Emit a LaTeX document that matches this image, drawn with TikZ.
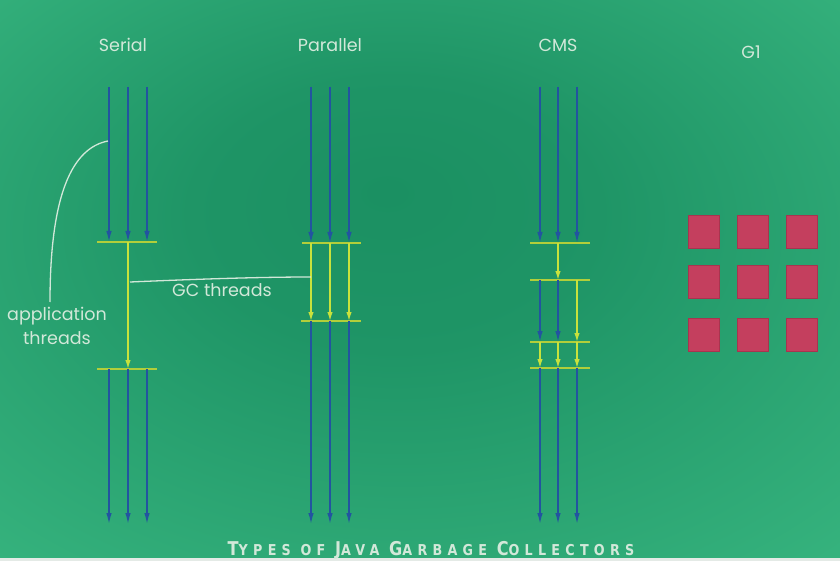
\documentclass[tikz,border=0pt]{standalone}
\usepackage{fontspec}
\setmainfont{Poppins}
\newfontfamily\titlefont[FakeStretch=0.85,LetterSpace=35]{DejaVu Sans}
\usetikzlibrary{arrows.meta}
\definecolor{gdark}{HTML}{1B9062}
\definecolor{glight}{HTML}{40C088}
\definecolor{thread}{HTML}{2254A0}
\definecolor{gcline}{HTML}{C8E23C}
\definecolor{barcol}{HTML}{B2CE3A}
\definecolor{labelcol}{HTML}{D2E8D9}
\definecolor{regionfill}{HTML}{C43F5E}
\definecolor{regionedge}{HTML}{A8344F}
\definecolor{stripcol}{HTML}{E4EAE6}
\pgfdeclareradialshading{greenbg}{\pgfpoint{-2bp}{8bp}}{color(0bp)=(gdark); color(12bp)=(gdark!90!glight); color(30bp)=(gdark!45!glight); color(48bp)=(glight)}
\newcommand{\Ini}[1]{{\fontsize{19}{20}\selectfont #1}}

\begin{document}
\begin{tikzpicture}[x=1pt,y=-1pt]
	\tikzstyle{label}=[text=labelcol,font=\fontsize{17.5}{24}\selectfont,inner sep=0pt]
	\tikzstyle{app}=[draw=thread,line width=1.4pt,-{Latex[length=11pt,width=5.5pt]}]
	\tikzstyle{gc}=[draw=gcline,line width=1.4pt,-{Latex[length=9pt,width=5.5pt]}]
	\tikzstyle{safepoint}=[draw=barcol,line width=2.2pt]
	\tikzstyle{note}=[draw=labelcol,line width=1.3pt]
	\tikzstyle{g1region}=[draw=regionedge,fill=regionfill,line width=0.8pt,inner sep=0pt,minimum width=31pt,minimum height=33pt]

	\useasboundingbox (0,0) rectangle (840,561);
	\shade[shading=greenbg] (0,0) rectangle (840,561);
	\fill[stripcol] (0,557.5) rectangle (840,561);

	% collector names
	\node [label] (serial) at (123,45) {Serial};
	\node [label] (parallel) at (330,45) {Parallel};
	\node [label] (cms) at (558,45) {CMS};
	\node [label] (g1) at (751,52) {G1};

	% serial
	\coordinate (ser1) at (109,87);
	\coordinate (ser2) at (128,87);
	\coordinate (ser3) at (147,87);
	\coordinate (ser1e) at (109,524);
	\coordinate (ser2e) at (128,524);
	\coordinate (ser3e) at (147,524);
	\coordinate (sbar1l) at (97,242);
	\coordinate (sbar1r) at (157,242);
	\coordinate (sbar2l) at (97,369);
	\coordinate (sbar2r) at (157,369);

	\path[app] (ser1) -- (ser1 |- sbar1l);
	\path[app] (ser2) -- (ser2 |- sbar1l);
	\path[app] (ser3) -- (ser3 |- sbar1l);
	\path[safepoint] (sbar1l) -- (sbar1r);
	\path[gc] (ser2 |- sbar1l) -- (ser2 |- sbar2l);
	\path[safepoint] (sbar2l) -- (sbar2r);
	\path[app] (ser1 |- sbar2l) -- (ser1e);
	\path[app] (ser2 |- sbar2l) -- (ser2e);
	\path[app] (ser3 |- sbar2l) -- (ser3e);

	% parallel
	\coordinate (par1) at (311,87);
	\coordinate (par2) at (330,87);
	\coordinate (par3) at (349,87);
	\coordinate (par1e) at (311,524);
	\coordinate (par2e) at (330,524);
	\coordinate (par3e) at (349,524);
	\coordinate (pbar1l) at (302,243);
	\coordinate (pbar1r) at (361,243);
	\coordinate (pbar2l) at (301,321);
	\coordinate (pbar2r) at (361,321);

	\path[app] (par1) -- (par1 |- pbar1l);
	\path[app] (par2) -- (par2 |- pbar1l);
	\path[app] (par3) -- (par3 |- pbar1l);
	\path[safepoint] (pbar1l) -- (pbar1r);
	\path[gc] (par1 |- pbar1l) -- (par1 |- pbar2l);
	\path[gc] (par2 |- pbar1l) -- (par2 |- pbar2l);
	\path[gc] (par3 |- pbar1l) -- (par3 |- pbar2l);
	\path[safepoint] (pbar2l) -- (pbar2r);
	\path[app] (par1 |- pbar2l) -- (par1e);
	\path[app] (par2 |- pbar2l) -- (par2e);
	\path[app] (par3 |- pbar2l) -- (par3e);

	% cms
	\coordinate (cms1) at (540,87);
	\coordinate (cms2) at (558,87);
	\coordinate (cms3) at (577,87);
	\coordinate (cms1e) at (540,524);
	\coordinate (cms2e) at (558,524);
	\coordinate (cms3e) at (577,524);
	\coordinate (cbar1l) at (530,243);
	\coordinate (cbar1r) at (590,243);
	\coordinate (cbar2l) at (530,280);
	\coordinate (cbar2r) at (590,280);
	\coordinate (cbar3l) at (530,342);
	\coordinate (cbar3r) at (590,342);
	\coordinate (cbar4l) at (530,368);
	\coordinate (cbar4r) at (590,368);

	\path[app] (cms1) -- (cms1 |- cbar1l);
	\path[app] (cms2) -- (cms2 |- cbar1l);
	\path[app] (cms3) -- (cms3 |- cbar1l);
	\path[safepoint] (cbar1l) -- (cbar1r);
	\path[gc] (cms2 |- cbar1l) -- (cms2 |- cbar2l);
	\path[safepoint] (cbar2l) -- (cbar2r);
	\path[app] (cms1 |- cbar2l) -- (cms1 |- cbar3l);
	\path[app] (cms2 |- cbar2l) -- (cms2 |- cbar3l);
	\path[gc] (cms3 |- cbar2l) -- (cms3 |- cbar3l);
	\path[safepoint] (cbar3l) -- (cbar3r);
	\path[gc] (cms1 |- cbar3l) -- (cms1 |- cbar4l);
	\path[gc] (cms2 |- cbar3l) -- (cms2 |- cbar4l);
	\path[gc] (cms3 |- cbar3l) -- (cms3 |- cbar4l);
	\path[safepoint] (cbar4l) -- (cbar4r);
	\path[app] (cms1 |- cbar4l) -- (cms1e);
	\path[app] (cms2 |- cbar4l) -- (cms2e);
	\path[app] (cms3 |- cbar4l) -- (cms3e);

	% g1 regions
	\node [g1region] (r11) at (703.5,231.5) {};
	\node [g1region] (r12) at (753,231.5) {};
	\node [g1region] (r13) at (802,231.5) {};
	\node [g1region] (r21) at (703.5,281.5) {};
	\node [g1region] (r22) at (753,281.5) {};
	\node [g1region] (r23) at (802,281.5) {};
	\node [g1region] (r31) at (703.5,334.5) {};
	\node [g1region] (r32) at (753,334.5) {};
	\node [g1region] (r33) at (802,334.5) {};

	% notes
	\node [label,align=center] (appthreads) at (57,326) {application\\threads};
	\node [label] (gcthreads) at (222,290) {GC threads};
	\coordinate (appa) at (108,141);
	\coordinate (appb) at (50,302);
	\coordinate (gca) at (130,282);
	\coordinate (gcb) at (311,277);
	\path[note] (appa) .. controls (72,148) and (50,195) .. (appb);
	\path[note] (gca) .. controls (200,279) and (260,277) .. (gcb);

	\node [text=labelcol,font=\titlefont\bfseries\fontsize{15}{16}\selectfont,inner sep=0pt,anchor=base] (title) at (431,555.5)
		{\Ini{T}YPES OF \Ini{J}AVA \Ini{G}ARBAGE \Ini{C}OLLECTORS};
\end{tikzpicture}
\end{document}
